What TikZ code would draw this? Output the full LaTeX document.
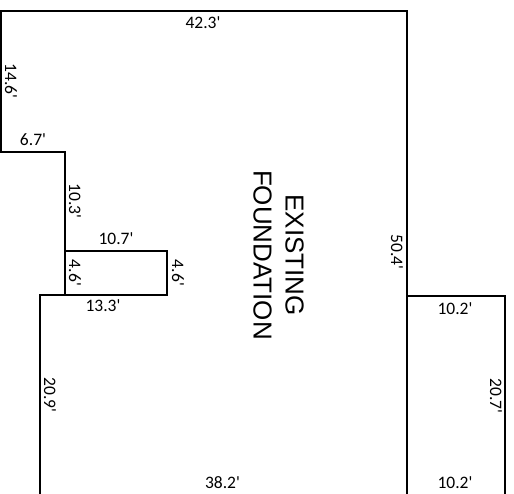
\documentclass[tikz,border=0pt]{standalone}
\usepackage{fontspec}
\setmainfont{Carlito}
\newfontfamily\titlefont{Liberation Sans}
\usepackage{tikz}
\newcommand{\ft}{\textquotesingle}
\tikzset{
    wall/.style={line width=2.3pt, line cap=rect, line join=miter},
    dim/.style={font=\fontsize{17.5}{19}\selectfont, inner sep=0pt},
    dimv/.style={dim, rotate=-90},
    title/.style={font=\titlefont\fontsize{26}{32}\selectfont, rotate=-90, align=center, inner sep=0pt}
}
\begin{document}
\begin{tikzpicture}[x=1pt,y=-1pt]
\useasboundingbox (0,0) rectangle (514,494);

\coordinate (A) at (1, 11);
        \coordinate (B) at (407, 11);
        \coordinate (C) at (407, 494);
        \coordinate (D) at (1, 152);
        \coordinate (E) at (65, 152);
        \coordinate (F) at (65, 295);
        \coordinate (G) at (65, 251);
        \coordinate (H) at (167, 251);
        \coordinate (I) at (167, 295);
        \coordinate (J) at (40, 295);
        \coordinate (K) at (40, 494);
        \coordinate (L) at (407, 296);
        \coordinate (M) at (505, 296);
        \coordinate (N) at (505, 494);

\draw[wall] (D) -- (A) -- (B) -- (C);
\draw[wall] (D) -- (E) -- (F);
\draw[wall] (G) -- (H) -- (I) -- (J) -- (K);
\draw[wall] (L) -- (M) -- (N);

\node (top) [dim] at (203,23) {42.3\ft};
\node (left) [dimv] at (11,81) {14.6\ft};
\node (step) [dim] at (33,140) {6.7\ft};
\node (upper) [dimv] at (75,201) {10.3\ft};
\node (inner) [dim] at (116,239) {10.7\ft};
\node (nookl) [dimv] at (75,273) {4.6\ft};
\node (nookr) [dimv] at (178,273) {4.6\ft};
\node (under) [dim] at (103,306) {13.3\ft};
\node (lower) [dimv] at (50,395) {20.9\ft};
\node (bottom) [dim] at (222.5,483) {38.2\ft};
\node (right) [dimv] at (397,252) {50.4\ft};
\node (addtop) [dim] at (455,309) {10.2\ft};
\node (addright) [dimv] at (496,396) {20.7\ft};
\node (addbot) [dim] at (455,483) {10.2\ft};
\node (label) [title] at (278.5,255) {EXISTING\\FOUNDATION};
\end{tikzpicture}
\end{document}
